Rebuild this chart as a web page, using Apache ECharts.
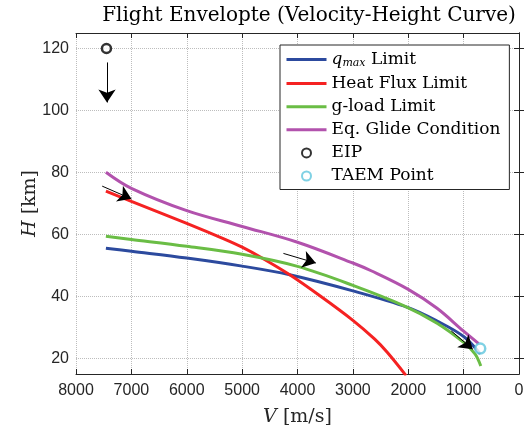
<!DOCTYPE html>
<html>
<head>
<meta charset="utf-8">
<script src="https://cdn.jsdelivr.net/npm/echarts@6/dist/echarts.min.js"></script>
<style>
  html, body { margin: 0; padding: 0; background: #fff; }
  #chart { width: 528px; height: 430px; }
</style>
</head>
<body>
<div id="chart"></div>
<script>
// values: V [m/s], H [km]
const qV = [7460, 7000, 6000, 5000, 4140, 3000, 2000, 1480, 1000, 700];
const qH = [55.6, 54.6, 52.4, 49.8, 47.0, 41.8, 36.4, 32.1, 27.1, 21.5];

const heatV = [7460, 7000, 6000, 5330, 5000, 4640, 4140, 3570, 3000, 2610, 2380, 2040];
const heatH = [74.0, 70.7, 63.6, 58.6, 55.9, 52.4, 47.0, 39.9, 32.3, 26.3, 22.0, 14.5];

const gV = [7460, 7000, 6000, 5000, 4000, 3000, 2075, 1480, 1000, 795, 690];
const gH = [59.4, 58.4, 56.2, 53.6, 49.7, 43.6, 37.0, 31.4, 25.2, 21.5, 17.6];

const glideV = [7460, 7000, 6000, 5000, 4000, 3000, 2670, 2000, 1480, 1000, 730];
const glideH = [80.1, 74.9, 67.7, 62.6, 57.5, 50.8, 48.3, 42.3, 36.2, 28.8, 24.8];

const eip = [7450, 120];
const taem = [700, 23.2];

// annotation arrows: [from, to]
const arrows = [
  [[7440, 115.5], [7440, 102.6]],
  [[7527, 75.6], [7000, 71.5]],
  [[4254, 53.9], [3669, 50.8]],
  [[1223, 28.9], [836, 23.0]]
];

const xTicks = { min: 0, max: 8000, step: 1000 };
const yRange = { min: 15, max: 125 };

function pairs(xs, ys) {
  return xs.map((x, i) => [x, ys[i]]);
}

const axisColor = '#262626';
const serif = 'DejaVu Serif';

const chart = echarts.init(document.getElementById('chart'));

function curve(name, xs, ys, color) {
  return {
    name: name,
    type: 'line',
    data: pairs(xs, ys),
    smooth: 0.35,
    symbol: 'none',
    clip: true,
    lineStyle: { color: color, width: 3 },
    itemStyle: { color: color },
    z: 3
  };
}

function lineItem(name) {
  // hide the dot ECharts puts on line legend icons
  return { name: name, itemStyle: { opacity: 0 }, lineStyle: { width: 3 } };
}

chart.setOption({
  animation: false,
  title: {
    text: 'Flight Envelopte (Velocity-Height Curve)',
    left: 304,
    top: 1,
    textAlign: 'center',
    textStyle: { fontFamily: serif, fontSize: 20, fontWeight: 'normal', color: '#000' }
  },
  grid: { left: 76, right: 9, top: 33, bottom: 56, outerBoundsMode: 'none' },
  legend: {
    data: [
      lineItem('qmax Limit'),
      lineItem('Heat Flux Limit'),
      lineItem('g-load Limit'),
      lineItem('Eq. Glide Condition'),
      { name: 'EIP' },
      { name: 'TAEM Point' }
    ],
    orient: 'vertical',
    left: 280,
    top: 45,
    itemWidth: 40,
    itemHeight: 9,
    itemGap: 6.1,
    padding: [5, 9, 5, 5],
    backgroundColor: '#fff',
    borderColor: axisColor,
    borderWidth: 1,
    borderRadius: 0,
    formatter: function (name) {
      if (name === 'qmax Limit') return '{i|q}{s|max} Limit';
      return name;
    },
    textStyle: {
      fontFamily: serif,
      fontSize: 17,
      lineHeight: 16,
      color: '#000',
      rich: {
        i: { fontFamily: serif, fontStyle: 'italic', fontSize: 17, lineHeight: 16 },
        s: { fontFamily: serif, fontStyle: 'italic', fontSize: 11, lineHeight: 16, padding: [8, 0, 0, 0] }
      }
    }
  },
  xAxis: [
    {
      type: 'value',
      inverse: true,
      min: xTicks.min,
      max: xTicks.max,
      interval: xTicks.step,
      name: '{it|V} [m/s]',
      nameLocation: 'middle',
      nameGap: 34,
      nameMoveOverlap: false,
      nameTextStyle: {
        fontFamily: serif, fontSize: 19, color: axisColor,
        rich: { it: { fontFamily: serif, fontStyle: 'italic', fontSize: 19, color: axisColor } }
      },
      axisLine: { show: true, lineStyle: { color: axisColor, width: 1 } },
      axisTick: { show: true, inside: true, length: 5, lineStyle: { color: axisColor } },
      axisLabel: {
        fontFamily: 'Liberation Sans', fontSize: 16, color: axisColor, margin: 9,
        formatter: v => String(v)
      },
      splitLine: { show: true, lineStyle: { color: '#bdbdbd', type: 'dotted', width: 1 } }
    },
    {
      type: 'value',
      position: 'top',
      inverse: true,
      min: xTicks.min,
      max: xTicks.max,
      interval: xTicks.step,
      axisLine: { show: true, lineStyle: { color: axisColor, width: 1 } },
      axisTick: { show: true, inside: true, length: 5, lineStyle: { color: axisColor } },
      axisLabel: { show: false },
      splitLine: { show: false }
    }
  ],
  yAxis: [
    {
      type: 'value',
      min: yRange.min,
      max: yRange.max,
      splitNumber: 5,
      name: '{it|H} [km]',
      nameLocation: 'middle',
      nameGap: 36,
      nameMoveOverlap: false,
      nameTextStyle: {
        fontFamily: serif, fontSize: 19, color: axisColor,
        rich: { it: { fontFamily: serif, fontStyle: 'italic', fontSize: 19, color: axisColor } }
      },
      axisLine: { show: true, lineStyle: { color: axisColor, width: 1 } },
      axisTick: { show: true, inside: true, length: 5, lineStyle: { color: axisColor } },
      axisLabel: {
        fontFamily: 'Liberation Sans', fontSize: 16, color: axisColor, margin: 7,
        showMinLabel: false, showMaxLabel: false
      },
      splitLine: { show: true, lineStyle: { color: '#bdbdbd', type: 'dotted', width: 1 } }
    },
    {
      type: 'value',
      position: 'right',
      min: yRange.min,
      max: yRange.max,
      splitNumber: 5,
      axisLine: { show: true, lineStyle: { color: axisColor, width: 1 } },
      axisTick: { show: true, inside: true, length: 5, lineStyle: { color: axisColor } },
      axisLabel: { show: false },
      splitLine: { show: false }
    }
  ],
  series: [
    curve('qmax Limit', qV, qH, '#2c4a9e'),
    curve('Heat Flux Limit', heatV, heatH, '#f52222'),
    curve('g-load Limit', gV, gH, '#6abd45'),
    curve('Eq. Glide Condition', glideV, glideH, '#b252ad'),
    {
      name: 'arrows',
      type: 'lines',
      coordinateSystem: 'cartesian2d',
      data: arrows.map(a => ({ coords: a })),
      symbol: ['none', 'arrow'],
      symbolSize: [9, 13],
      lineStyle: { color: '#000', width: 1, opacity: 1 },
      itemStyle: { color: '#000' },
      z: 5
    },
    {
      name: 'EIP',
      type: 'scatter',
      data: [eip],
      symbol: 'circle',
      symbolSize: 9,
      itemStyle: { color: '#fff', borderColor: '#000', borderWidth: 2.5 },
      z: 6
    },
    {
      name: 'TAEM Point',
      type: 'scatter',
      data: [taem],
      symbol: 'circle',
      symbolSize: 10,
      itemStyle: { color: '#fff', borderColor: '#5fc6dd', borderWidth: 2.5 },
      z: 6
    }
  ]
});
</script>
</body>
</html>
